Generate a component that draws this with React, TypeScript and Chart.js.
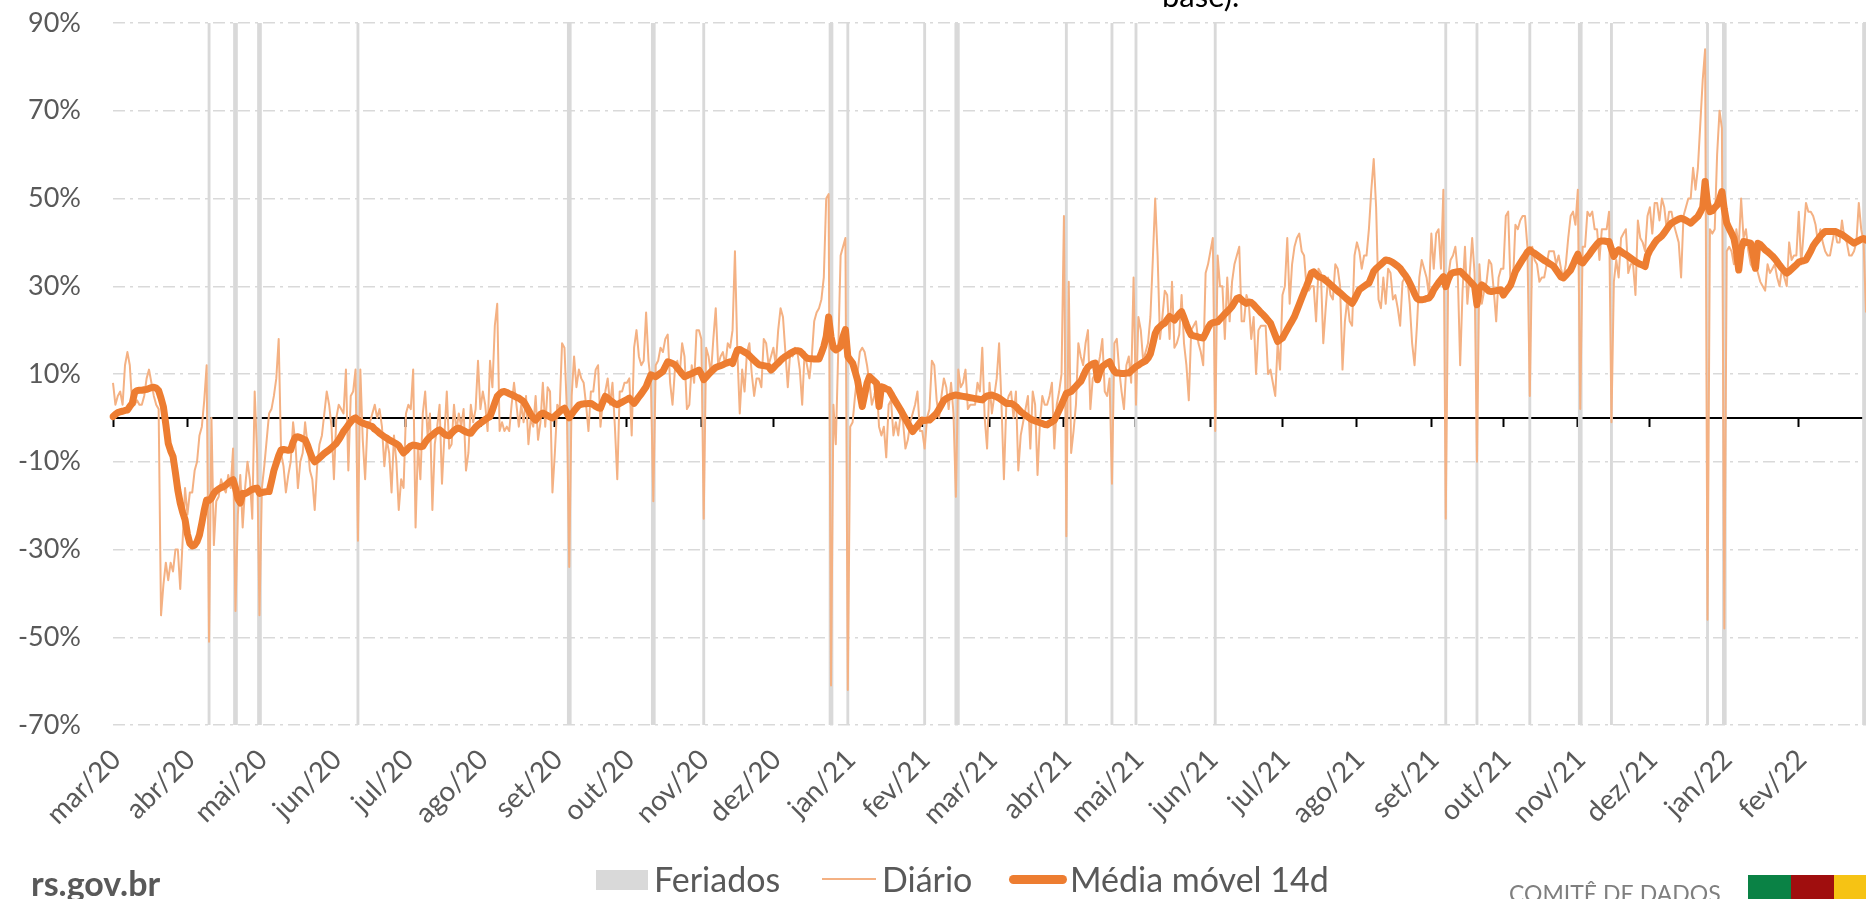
import React, { useEffect, useRef } from 'react';
import { Chart, registerables } from 'chart.js';

Chart.register(...registerables);

// ---------- data ----------
const INICIO = '2020-03-01';
const MESES = ['jan', 'fev', 'mar', 'abr', 'mai', 'jun', 'jul', 'ago', 'set', 'out', 'nov', 'dez'];

// month tick labels shown on the axis
const rotulosMeses = [
  'mar/20', 'abr/20', 'mai/20', 'jun/20', 'jul/20', 'ago/20', 'set/20', 'out/20', 'nov/20', 'dez/20',
  'jan/21', 'fev/21', 'mar/21', 'abr/21', 'mai/21', 'jun/21', 'jul/21', 'ago/21', 'set/21', 'out/21',
  'nov/21', 'dez/21', 'jan/22', 'fev/22',
];

const yTicks = [-70, -50, -30, -10, 10, 30, 50, 70, 90];
const Y_MIN = -70;
const Y_MAX = 90;

// Daily series (%), one value per day from 2020-03-01 to 2022-03-01
const diario: number[] = [
  // mar/20
  8, 3, 5, 6, 3, 12, 15, 12, 3, 3, 4, 3, 3, 5, 9, 11, 8, 5, 3, 2, -45, -38, -33, -37, -33, -35, -30, -30, -39, -28, -16,
  // abr/20
  -22, -17, -17, -12, -10, -4, -2, 4, 12, -51, 0, -29, -19, -18, -14, -16, -17, -13, -16, -7, -44, -22, -13, -25, -16, -10, -14, -23, 6, -8,
  // mai/20
  -45, -16, -11, -5, 1, 2, 5, 9, 18, -8, -11, -17, -13, -10, -1, -6, -16, -10, -8, -1, -6, -12, -14, -21, -11, -6, -4, 1, 6, 3, -2,
  // jun/20
  -14, 0, 3, 2, 1, 11, -12, 5, 6, 11, -28, 11, -5, -14, -1, -1, 1, 3, 0, 2, -2, -11, -5, -8, -17, -4, -10, -21, -14, -16,
  // jul/20
  1, 3, 2, 11, -25, -6, -14, 1, 6, -4, 1, -21, -6, -2, 3, -15, -4, 6, -7, -6, 3, -3, 1, -2, 2, -12, -8, 3, -1, 2, 13,
  // ago/20
  2, 6, 3, -3, 13, 7, 21, 26, -3, -1, -3, -2, -3, 3, 8, 3, -2, 3, -1, 5, -6, 0, -2, 5, -5, -1, 8, -2, 7, 6, -17,
  // set/20
  -8, 3, 2, 17, 16, 2, -34, 5, 14, 7, 11, 9, 8, 3, -3, 6, 6, 11, 12, -2, 4, 6, 9, 3, 8, -2, -14, 6, 6, 8,
  // out/20
  8, 9, -4, 16, 20, 14, 12, 13, 24, 13, 8, -19, 12, 13, 16, 15, 18, 19, 8, 3, 11, 13, 10, 17, 14, 2, 3, 12, 8, 20, 20,
  // nov/20
  18, -23, 16, 14, 10, 18, 25, 12, 14, 15, 12, 17, 16, 20, 38, 15, 1, 11, 6, 15, 17, 10, 5, 9, 9, 7, 18, 17, 12, 14,
  // dez/20
  16, 12, 20, 25, 23, 15, 7, 15, 14, 16, 15, 11, 3, 15, 12, 9, 14, 22, 24, 25, 27, 32, 50, 51, -61, 3, -6, 15, 37, 39, 41,
  // jan/21
  -62, -2, -1, 5, 10, 15, 16, 15, 12, 8, 3, 5, 8, -2, -4, -2, -9, 3, 4, -4, -1, -4, 1, -1, -7, -5, -1, 1, 3, 6, -3,
  // fev/21
  -3, -7, 0, 2, 13, 12, 4, 0, 5, 9, 7, 2, 8, 1, -18, 11, 7, 8, 11, 2, 3, 3, 3, 8, 6, 16, 0, -7,
  // mar/21
  8, 1, 5, 9, 17, 3, -14, 3, 5, 6, 0, 6, -12, -4, -1, 2, 5, -7, 6, 3, -13, -1, 5, 3, 3, 5, 8, -7, 3, 6, 10,
  // abr/21
  46, -27, 31, -8, -3, 3, 17, 14, 12, 17, 20, 2, 9, 10, 11, 14, 18, 6, 5, 9, -15, 17, 18, 11, 6, 2, 12, 14, 8, 32,
  // mai/21
  3, 23, 20, 13, 15, 17, 23, 36, 50, 37, 18, 23, 29, 28, 18, 31, 16, 17, 19, 28, 17, 12, 4, 20, 21, 22, 17, 15, 12, 33, 35,
  // jun/21
  38, 41, -3, 37, 30, 30, 18, 32, 22, 31, 35, 37, 39, 22, 22, 28, 26, 18, 23, 10, 20, 21, 21, 21, 10, 11, 8, 5, 17, 11,
  // jul/21
  28, 30, 41, 26, 35, 39, 41, 42, 38, 37, 30, 29, 30, 30, 22, 34, 33, 17, 25, 32, 28, 27, 35, 34, 30, 11, 22, 27, 22, 21, 37,
  // ago/21
  40, 38, 34, 37, 37, 43, 52, 59, 48, 27, 25, 32, 26, 34, 33, 27, 28, 25, 21, 31, 32, 32, 26, 17, 12, 21, 32, 36, 34, 32, 28,
  // set/21
  42, 34, 42, 43, 34, 52, -23, 32, 36, 37, 39, 33, 12, 29, 39, 26, 33, 41, 33, -10, 35, 26, 29, 31, 36, 35, 29, 22, 32, 34,
  // out/21
  34, 46, 47, 30, 31, 44, 43, 45, 46, 46, 39, 5, 39, 36, 35, 31, 32, 32, 35, 38, 38, 38, 35, 37, 34, 32, 35, 41, 46, 47, 44,
  // nov/21
  52, 2, 39, 39, 47, 46, 47, 43, 43, 36, 43, 43, 43, 47, -1, 31, 36, 32, 41, 42, 43, 33, 35, 35, 28, 45, 41, 40, 38, 46,
  // dez/21
  48, 42, 49, 49, 45, 50, 48, 43, 47, 47, 44, 42, 40, 32, 46, 48, 50, 50, 57, 52, 57, 67, 77, 84, -46, 43, 42, 43, 60, 70, 66,
  // jan/22
  -48, 38, 39, 38, 35, 43, 39, 50, 41, 43, 38, 35, 34, 35, 33, 31, 30, 29, 35, 33, 34, 35, 32, 30, 34, 32, 30, 40, 36, 37, 37,
  // fev/22
  47, 35, 42, 49, 47, 47, 46, 44, 40, 43, 40, 38, 37, 37, 40, 43, 40, 40, 45, 41, 40, 37, 37, 38, 40, 49, 43, 40,
  // mar/22
  24,
];

// 14-day moving average (%)
const media14: number[] = [
  // mar/20
  0.3, 0.8, 1.2, 1.4, 1.5, 1.7, 1.8, 2.6, 3.3, 5.8, 6.2, 6.3, 6.3, 6.4, 6.5, 6.7, 6.9, 7.0, 6.8, 6.2, 4.5, 2.5, -1.5, -5.8, -7.5, -8.8, -12.5, -16.5, -19.4, -21.5, -23.2,
  // abr/20
  -26.5, -28.6, -29.2, -29.0, -28.2, -26.7, -24.0, -21.0, -18.7, -18.8, -18.3, -17.2, -16.6, -16.2, -15.9, -15.7, -15.3, -14.8, -14.4, -14.1, -16.0, -18.5, -19.4, -17.2, -17.3, -17.0, -16.6, -16.3, -16.1, -16.0,
  // mai/20
  -17.2, -17.0, -16.9, -16.8, -16.8, -14.5, -12.0, -10.3, -8.6, -7.3, -7.2, -7.3, -7.4, -7.3, -5.5, -4.4, -4.3, -4.5, -4.8, -5.0, -6.2, -7.8, -9.2, -10.0, -9.6, -9.1, -8.6, -8.1, -7.7, -7.3, -6.8,
  // jun/20
  -6.3, -5.8, -5.0, -4.1, -3.1, -2.4, -1.6, -0.9, -0.3, 0.0, -0.5, -0.9, -1.2, -1.4, -1.6, -1.8, -2.0, -2.6, -3.0, -3.5, -3.9, -4.3, -4.6, -5.0, -5.3, -5.6, -5.9, -6.3, -7.2, -8.0,
  // jul/20
  -7.5, -6.9, -6.4, -6.2, -6.3, -6.4, -6.6, -6.5, -5.6, -4.9, -4.3, -3.9, -3.4, -3.0, -2.7, -3.2, -3.7, -4.0, -4.1, -3.5, -2.9, -2.5, -2.3, -2.6, -2.9, -3.2, -3.4, -3.5, -2.8, -2.1, -1.6,
  // ago/20
  -1.2, -0.8, -0.4, 0.0, 0.3, 1.8, 3.4, 4.9, 5.5, 5.9, 6.0, 5.8, 5.5, 5.3, 5.0, 4.7, 4.5, 4.1, 3.7, 2.8, 1.8, 0.8, 0.0, -0.5, 0.2, 0.8, 1.1, 0.8, 0.5, 0.2, 0.0,
  // set/20
  0.4, 0.9, 1.4, 1.9, 2.2, 1.2, 0.0, 0.8, 1.6, 2.3, 2.9, 3.1, 3.2, 3.2, 3.3, 3.3, 3.0, 2.6, 2.3, 2.2, 3.6, 4.9, 4.5, 4.0, 3.6, 3.2, 3.0, 3.3, 3.6, 3.9,
  // out/20
  4.2, 4.5, 3.9, 3.3, 4.0, 4.8, 5.5, 6.3, 7.1, 8.5, 9.8, 9.6, 9.4, 9.8, 10.2, 10.6, 11.7, 12.8, 12.6, 12.4, 12.1, 11.4, 10.7, 10.0, 9.4, 9.6, 9.9, 10.1, 10.4, 10.6, 10.9,
  // nov/20
  10.0, 8.7, 9.3, 9.9, 10.5, 11.0, 11.5, 11.7, 11.9, 12.1, 12.4, 12.6, 12.8, 12.4, 14.0, 15.5, 15.6, 15.3, 15.0, 14.7, 14.2, 13.6, 13.1, 12.6, 12.1, 12.0, 11.9, 11.8, 11.7, 10.9,
  // dez/20
  11.4, 12.0, 12.5, 13.1, 13.6, 14.0, 14.3, 14.7, 15.0, 15.3, 15.3, 15.2, 14.7, 14.1, 13.6, 13.5, 13.5, 13.4, 13.4, 13.4, 14.8, 16.3, 18.5, 23.0, 18.5, 16.0, 15.5, 15.8, 16.3, 18.5, 20.1,
  // jan/21
  14.0, 13.2, 12.5, 10.6, 8.7, 5.6, 2.6, 5.2, 7.9, 9.4, 8.9, 8.4, 7.9, 2.6, 7.1, 6.9, 6.6, 6.4, 5.5, 4.5, 3.6, 2.7, 1.8, 0.8, -0.2, -1.2, -2.2, -3.1, -2.4, -1.8, -1.1,
  // fev/21
  -0.5, -0.6, -0.5, -0.5, 0.0, 0.5, 1.1, 2.0, 3.0, 4.0, 4.4, 4.7, 4.9, 5.1, 5.2, 5.1, 5.0, 4.9, 4.8, 4.7, 4.6, 4.5, 4.4, 4.3, 4.2, 4.1, 4.6, 5.0,
  // mar/21
  5.1, 5.2, 5.0, 4.8, 4.5, 4.1, 3.7, 3.3, 3.3, 3.3, 3.0, 2.6, 2.0, 1.4, 1.0, 0.6, 0.2, -0.2, -0.5, -0.7, -0.9, -1.1, -1.3, -1.5, -1.6, -1.2, -0.9, -0.5, 0.6, 1.8, 3.0,
  // abr/21
  4.3, 5.6, 5.8, 6.0, 6.6, 7.2, 7.8, 8.3, 9.5, 10.7, 11.6, 12.0, 12.3, 12.5, 8.7, 10.5, 11.7, 12.1, 12.5, 12.8, 11.5, 10.6, 10.2, 10.2, 10.1, 10.1, 10.2, 10.2, 10.7, 11.2,
  // mai/21
  11.7, 12.0, 12.4, 12.7, 13.0, 13.6, 14.6, 16.8, 19.2, 20.3, 20.8, 21.3, 21.6, 22.4, 23.1, 22.7, 22.3, 23.0, 23.7, 24.2, 22.8, 21.3, 19.9, 18.9, 18.7, 18.6, 18.4, 18.3, 18.2, 19.3, 20.5,
  // jun/21
  21.4, 21.7, 21.8, 21.9, 22.5, 23.1, 23.7, 24.2, 24.8, 25.4, 26.3, 27.2, 27.4, 26.9, 26.4, 26.1, 26.4, 26.3, 25.8, 25.2, 24.6, 24.0, 23.5, 22.9, 22.2, 21.6, 20.2, 18.8, 17.4, 17.8,
  // jul/21
  18.2, 19.2, 20.2, 21.2, 22.1, 23.1, 24.5, 25.9, 27.3, 28.7, 30.0, 31.4, 33.0, 33.3, 32.7, 32.2, 32.0, 31.8, 31.3, 30.9, 30.4, 29.9, 29.4, 28.9, 28.5, 28.0, 27.5, 27.0, 26.6, 26.1, 27.0,
  // ago/21
  28.1, 29.2, 29.6, 30.0, 30.4, 30.7, 32.0, 33.4, 34.0, 34.5, 35.0, 35.5, 36.0, 35.9, 35.7, 35.4, 35.0, 34.6, 34.1, 33.3, 32.6, 31.8, 30.7, 29.6, 28.3, 27.2, 26.9, 26.9, 27.0, 27.2, 27.3,
  // set/21
  28.0, 29.2, 30.0, 30.8, 31.5, 32.2, 29.9, 31.5, 32.7, 33.1, 33.2, 33.3, 33.4, 32.9, 32.3, 31.8, 31.2, 30.6, 30.0, 25.8, 29.5, 30.3, 29.9, 29.4, 28.9, 28.8, 28.9, 29.0, 29.1, 29.2,
  // out/21
  28.0, 28.8, 29.5, 30.3, 31.8, 33.4, 34.3, 35.2, 36.1, 36.9, 37.8, 38.3, 37.8, 37.5, 37.1, 36.7, 36.3, 35.9, 35.6, 35.2, 34.9, 34.5, 33.7, 32.9, 32.1, 31.9, 32.5, 33.1, 33.7, 34.9, 36.2,
  // nov/21
  37.3, 35.6, 35.3, 36.0, 36.7, 37.4, 38.2, 38.9, 39.6, 40.2, 40.3, 40.3, 40.2, 40.2, 38.5, 36.8, 37.8, 38.3, 37.9, 37.5, 37.2, 36.8, 36.4, 36.0, 35.6, 35.3, 35.0, 34.8, 34.5, 37.0,
  // dez/21
  38.2, 39.0, 39.9, 40.6, 41.0, 41.5, 42.2, 43.0, 43.8, 44.4, 44.7, 45.0, 45.3, 45.5, 45.3, 45.0, 44.7, 44.4, 44.9, 45.4, 45.9, 46.9, 48.0, 53.9, 48.9, 47.0, 47.2, 47.9, 48.5, 49.8, 51.6,
  // jan/22
  47.5, 44.4, 43.2, 42.1, 40.9, 38.0, 33.7, 38.5, 40.2, 40.1, 39.9, 39.8, 37.0, 34.1, 39.8, 39.5, 38.9, 38.3, 37.9, 37.4, 36.9, 36.3, 35.6, 34.8, 34.1, 33.5, 33.0, 33.4, 33.9, 34.4, 34.9,
  // fev/22
  35.5, 35.7, 35.8, 36.0, 37.0, 38.0, 39.2, 40.0, 40.7, 41.4, 42.0, 42.5, 42.5, 42.5, 42.5, 42.5, 42.3, 42.0, 41.8, 41.4, 41.0, 40.6, 40.2, 39.8, 40.1, 40.4, 40.7, 40.9,
  // mar/22
  40.5,
];

// Holidays (Feriados)
const feriados = [
  '2020-04-10', '2020-04-21', '2020-05-01', '2020-06-11', '2020-09-07', '2020-10-12', '2020-11-02', '2020-12-25',
  '2021-01-01', '2021-02-02', '2021-02-15', '2021-02-16', '2021-04-02', '2021-04-21', '2021-05-01', '2021-06-03',
  '2021-09-07', '2021-09-20', '2021-10-12', '2021-11-02', '2021-11-15', '2021-12-25', '2022-01-01', '2022-02-28',
  '2022-03-01',
];
// holidays drawn with a wider bar in the original
const feriadosLargos = ['2020-04-21', '2020-05-01', '2020-09-07', '2020-10-12', '2020-12-25', '2021-11-02', '2022-01-01'];

// ---------- helpers ----------
function gerarDatas(n: number): string[] {
  const [y, m, d] = INICIO.split('-').map(Number);
  const base = Date.UTC(y, m - 1, d);
  const out: string[] = [];
  for (let i = 0; i < n; i++) out.push(new Date(base + i * 86400000).toISOString().slice(0, 10));
  return out;
}
function rotuloMes(iso: string): string {
  const [y, m] = iso.split('-');
  return MESES[Number(m) - 1] + '/' + y.slice(2);
}

const datas = gerarDatas(diario.length);
const inicioMesIdx = datas
  .map((d, i) => (d.endsWith('-01') && rotulosMeses.includes(rotuloMes(d)) ? i : -1))
  .filter((i) => i >= 0);

const COR_DIARIO = '#F4B183';
const COR_MEDIA = '#ED7D31';
const COR_FERIADO = '#D9D9D9';
const COR_TEXTO = '#595959';
const FONTE = 'Lato, "Open Sans", sans-serif';

export default function App() {
  const ref = useRef<HTMLCanvasElement | null>(null);

  useEffect(() => {
    if (!ref.current) return;
    const setMonthTicks = (s: any) => {
      s.ticks = inicioMesIdx.map((i) => ({ value: i }));
    };
    const chart = new Chart(ref.current, {
      data: {
        labels: datas,
        datasets: [
          {
            type: 'line',
            label: 'Média móvel 14d',
            data: media14,
            borderColor: COR_MEDIA,
            borderWidth: 7,
            pointRadius: 0,
            tension: 0,
            borderJoinStyle: 'round',
            borderCapStyle: 'round',
            order: 0,
            xAxisID: 'x',
            yAxisID: 'y',
          },
          {
            type: 'line',
            label: 'Diário',
            data: diario,
            borderColor: COR_DIARIO,
            borderWidth: 2,
            pointRadius: 0,
            tension: 0,
            borderJoinStyle: 'round',
            order: 1,
            xAxisID: 'x',
            yAxisID: 'y',
          },
          {
            type: 'bar',
            label: 'Feriados',
            data: datas.map((d) => (feriados.includes(d) && !feriadosLargos.includes(d) ? [Y_MIN, Y_MAX] : null)) as any,
            backgroundColor: COR_FERIADO,
            borderWidth: 0,
            barThickness: 2.2,
            grouped: false,
            order: 2,
            xAxisID: 'x',
            yAxisID: 'y',
          },
          {
            type: 'bar',
            label: 'Feriados ',
            data: datas.map((d) => (feriadosLargos.includes(d) ? [Y_MIN, Y_MAX] : null)) as any,
            backgroundColor: COR_FERIADO,
            borderWidth: 0,
            barThickness: 4,
            grouped: false,
            order: 3,
            xAxisID: 'x',
            yAxisID: 'y',
          },
        ],
      } as any,
      options: {
        animation: false,
        responsive: false,
        maintainAspectRatio: false,
        events: [],
        layout: { padding: { top: 23, left: 0, right: 0, bottom: 0 } },
        plugins: {
          legend: { display: false },
          tooltip: { enabled: false },
          title: { display: false },
        },
        scales: {
          x: {
            type: 'category',
            position: 'bottom',
            offset: false,
            grid: { display: false, drawTicks: false },
            border: { display: false },
            afterBuildTicks: setMonthTicks,
            afterFit: (s: any) => {
              s.height = 899 - 725;
            },
            ticks: {
              autoSkip: false,
              minRotation: 45,
              maxRotation: 45,
              padding: 18,
              labelOffset: 3,
              color: COR_TEXTO,
              font: { family: FONTE, size: 28 },
              callback: (v: any) => rotuloMes(datas[Number(v)]),
            },
          },
          x0: {
            type: 'category',
            position: { y: 0 },
            offset: false,
            grid: {
              display: true,
              drawOnChartArea: false,
              drawTicks: true,
              tickLength: 8,
              tickWidth: 2,
              tickColor: '#000000',
            },
            border: { display: true, color: '#000000', width: 2 },
            afterBuildTicks: setMonthTicks,
            ticks: { display: false, autoSkip: false },
          },
          y: {
            type: 'linear',
            position: 'left',
            min: Y_MIN,
            max: Y_MAX,
            afterBuildTicks: (s: any) => {
              s.ticks = yTicks.map((v) => ({ value: v }));
            },
            afterFit: (s: any) => {
              s.width = 113;
            },
            grid: { color: COR_FERIADO, lineWidth: 1.5, drawTicks: true, tickLength: 32, tickColor: 'rgba(0,0,0,0)' },
            border: { display: false, dash: [12, 5, 3, 5] },
            ticks: {
              padding: 0,
              color: COR_TEXTO,
              font: { family: FONTE, size: 27 },
              callback: (v: any) => v + '%',
            },
          },
        } as any,
      },
    });
    return () => chart.destroy();
  }, []);

  const legText: React.CSSProperties = {
    position: 'absolute',
    top: 862,
    fontFamily: FONTE,
    fontSize: 34,
    lineHeight: '34px',
    color: COR_TEXTO,
    whiteSpace: 'nowrap',
  };

  return (
    <div
      style={{
        position: 'fixed',
        left: 0,
        top: 0,
        width: 1866,
        height: 899,
        overflow: 'hidden',
        background: '#ffffff',
        fontFamily: FONTE,
      }}
    >
      <canvas ref={ref} width={1866} height={899} style={{ position: 'absolute', left: 0, top: 0, width: 1866, height: 899 }} />

      {/* tail of the title (cut by the frame) */}
      <div style={{ position: 'absolute', left: 1162, top: -20, fontSize: 31, lineHeight: '31px', color: '#000', whiteSpace: 'nowrap' }}>
        base).
      </div>

      {/* legend */}
      <div style={{ position: 'absolute', left: 596, top: 870, width: 52, height: 20, background: COR_FERIADO }} />
      <div style={{ ...legText, left: 654 }}>Feriados</div>
      <div style={{ position: 'absolute', left: 822, top: 878, width: 54, height: 2, background: COR_DIARIO }} />
      <div style={{ ...legText, left: 882 }}>Diário</div>
      <div style={{ position: 'absolute', left: 1009, top: 875, width: 58, height: 9, borderRadius: 5, background: COR_MEDIA }} />
      <div style={{ ...legText, left: 1070 }}>Média móvel 14d</div>

      {/* footer */}
      <div style={{ position: 'absolute', left: 31, top: 866, fontSize: 34, lineHeight: '34px', fontWeight: 700, color: COR_TEXTO, whiteSpace: 'nowrap' }}>
        rs.gov.br
      </div>
      <div style={{ position: 'absolute', left: 1509, top: 882, fontSize: 23, lineHeight: '23px', color: '#7F7F7F', whiteSpace: 'nowrap' }}>
        COMITÊ DE DADOS
      </div>
      <div style={{ position: 'absolute', left: 1748, top: 875, width: 43, height: 30, background: '#0A8245' }} />
      <div style={{ position: 'absolute', left: 1791, top: 875, width: 43, height: 30, background: '#A00E0E' }} />
      <div style={{ position: 'absolute', left: 1834, top: 875, width: 43, height: 30, background: '#F6C314' }} />
    </div>
  );
}
